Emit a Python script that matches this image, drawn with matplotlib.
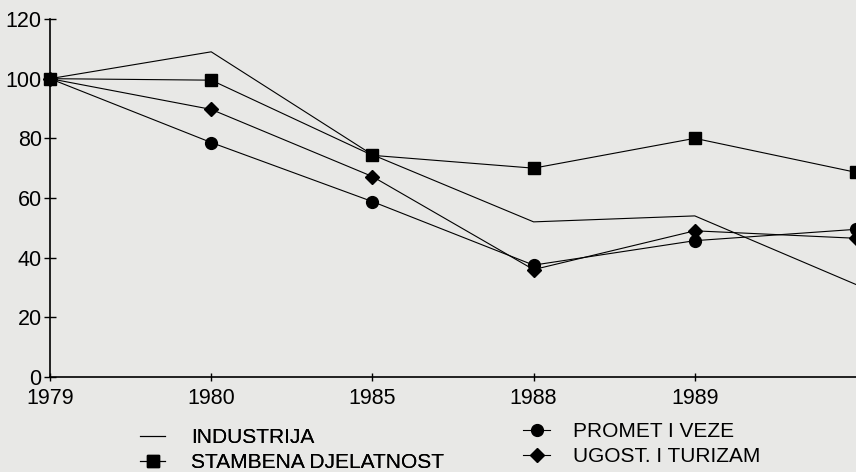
import matplotlib.pyplot as plt

plt.rcParams['font.family'] = ['Liberation Sans', 'DejaVu Sans']

# godine i indeksi (1979 = 100)
godine = ['1979', '1980', '1985', '1988', '1989']
industrija = [100, 109, 74.5, 52, 54, 31]
stambena = [100, 99.5, 74.3, 70, 80, 68.6]
promet = [100, 78.6, 58.8, 37.5, 45.7, 49.5]
ugost = [100, 89.7, 67.2, 36, 49, 46.5]

bg = '#e8e8e6'
fig = plt.figure(figsize=(8.56, 4.72), dpi=100, facecolor=bg)
ax = fig.add_axes([50 / 856, 95 / 472, 806 / 856, 358 / 472], facecolor=bg)

x = range(len(industrija))
l1, = ax.plot(x, industrija, color='black', lw=0.8, clip_on=False)
l2, = ax.plot(x, stambena, color='black', lw=0.8, marker='s', ms=8, clip_on=False)
l3, = ax.plot(x, promet, color='black', lw=0.8, marker='o', ms=8.5, clip_on=False)
l4, = ax.plot(x, ugost, color='black', lw=0.8, marker='D', ms=7, clip_on=False)

ax.set_xlim(0, 5)
ax.set_ylim(0, 120)
ax.set_yticks(range(0, 121, 20))
ax.set_xticks(range(len(godine)))
ax.set_xticklabels(godine)
ax.spines['top'].set_visible(False)
ax.spines['right'].set_visible(False)
ax.spines['left'].set_linewidth(1.2)
ax.spines['bottom'].set_linewidth(1.2)
ax.tick_params(axis='y', direction='inout', length=8, width=1, labelsize=15.5, pad=2)
ax.tick_params(axis='x', direction='inout', length=6, width=1, labelsize=15.5, pad=5)

# legenda u dva stupca
leg1 = fig.legend([l1, l2], ['INDUSTRIJA', 'STAMBENA DJELATNOST'],
                  loc='upper left', bbox_to_anchor=(140 / 856, 1 - 428 / 472),
                  frameon=False, fontsize=15, handlelength=1.2, handletextpad=1.25,
                  labelspacing=0.3, borderpad=0, borderaxespad=0)
fig.legend([l3, l4], ['PROMET I VEZE', 'UGOST. I TURIZAM'],
           loc='upper left', bbox_to_anchor=(523 / 856, 1 - 422 / 472),
           frameon=False, fontsize=15, handlelength=1.3, handletextpad=1.1,
           labelspacing=0.3, borderpad=0, borderaxespad=0)
fig.add_artist(leg1)

fig.savefig('out.png', dpi=100, facecolor=bg)
